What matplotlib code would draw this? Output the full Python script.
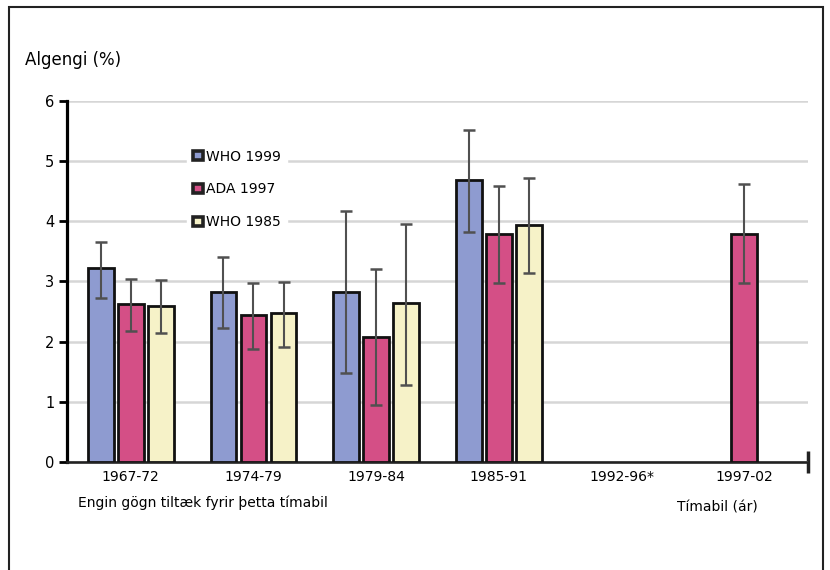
import numpy as np
import matplotlib
matplotlib.use("Agg")
import matplotlib.pyplot as plt
from matplotlib.patches import Rectangle

nan = np.nan

periods = ["1967-72", "1974-79", "1979-84", "1985-91", "1992-96*", "1997-02"]

# prevalence (%) with lower / upper limits of the error bars
who1999 = [3.22, 2.82, 2.82, 4.68, nan, nan]
who1999_lo = [2.72, 2.23, 1.48, 3.82, nan, nan]
who1999_hi = [3.65, 3.41, 4.17, 5.51, nan, nan]

ada1997 = [2.62, 2.44, 2.08, 3.79, nan, 3.79]
ada1997_lo = [2.18, 1.88, 0.95, 2.97, nan, 2.97]
ada1997_hi = [3.04, 2.97, 3.21, 4.58, nan, 4.62]

who1985 = [2.59, 2.48, 2.64, 3.94, nan, nan]
who1985_lo = [2.14, 1.91, 1.28, 3.14, nan, nan]
who1985_hi = [3.02, 2.99, 3.95, 4.72, nan, nan]

series = [
    ("WHO 1999", who1999, who1999_lo, who1999_hi, "#8e9bd0", -0.245),
    ("ADA 1997", ada1997, ada1997_lo, ada1997_hi, "#d44f86", 0.0),
    ("WHO 1985", who1985, who1985_lo, who1985_hi, "#f6f2c8", 0.245),
]

fig = plt.figure(figsize=(8.3, 5.7), dpi=100)
ax = fig.add_axes([0.0807, 0.1895, 0.8928, 0.634])

x = np.arange(len(periods))
handles = []
for name, vals, lo, hi, col, off in series:
    vals = np.array(vals)
    lo = np.array(lo)
    hi = np.array(hi)
    ok = ~np.isnan(vals)
    b = ax.bar(x[ok] + off, vals[ok], width=0.21, color=col,
               edgecolor="#111111", linewidth=2.0, zorder=3, label=name)
    ax.errorbar(x[ok] + off, vals[ok],
                yerr=[vals[ok] - lo[ok], hi[ok] - vals[ok]],
                fmt="none", ecolor="#505050", elinewidth=1.5,
                capsize=4, capthick=1.8, zorder=4)
    handles.append(b)

ax.set_xlim(-0.52, 5.52)
ax.set_ylim(0, 6)
ax.set_yticks(range(0, 7))
ax.yaxis.grid(True, color="#d6d6d6", lw=1.8, zorder=0)
ax.set_axisbelow(True)

for s in ["top", "right"]:
    ax.spines[s].set_visible(False)
ax.spines["left"].set_linewidth(2.3)
ax.spines["left"].set_color("black")
ax.spines["bottom"].set_linewidth(1.9)
ax.spines["bottom"].set_color("#222222")

ax.set_xticks(x)
ax.set_xticklabels(periods, fontsize=10)
ax.tick_params(axis="x", which="major", length=0, pad=6)
ax.set_xticks([5.52], minor=True)
ax.tick_params(axis="x", which="minor", direction="inout", length=16,
               width=2.5, color="#222222")
ax.tick_params(axis="y", length=6, width=2, pad=3, labelsize=10.5)

leg = ax.legend(handles=handles, loc="upper left",
                bbox_to_anchor=(0.162, 0.88), frameon=True, fontsize=10,
                handlelength=0.75, handleheight=0.6, handletextpad=0.25,
                labelspacing=1.35, borderpad=0.4, borderaxespad=0)
leg.get_frame().set_edgecolor("white")
leg.get_frame().set_facecolor("white")
leg.get_frame().set_alpha(1)
for h in leg.legend_handles:
    h.set_linewidth(2.6)
    h.set_edgecolor("#222222")

fig.text(0.030, 0.895, "Algengi (%)", fontsize=12, va="center", ha="left")
fig.text(0.094, 0.1175, "Engin gögn tiltæk fyrir þetta tímabil",
         fontsize=10, va="center", ha="left")
fig.text(0.816, 0.109, "Tímabil (ár)", fontsize=10, va="center", ha="left")

fig.add_artist(Rectangle((0.0108, -0.02), 0.9808, 1.0077, transform=fig.transFigure,
                         fill=False, lw=1.5, edgecolor="#222222"))

fig.savefig("out.png", dpi=100)
